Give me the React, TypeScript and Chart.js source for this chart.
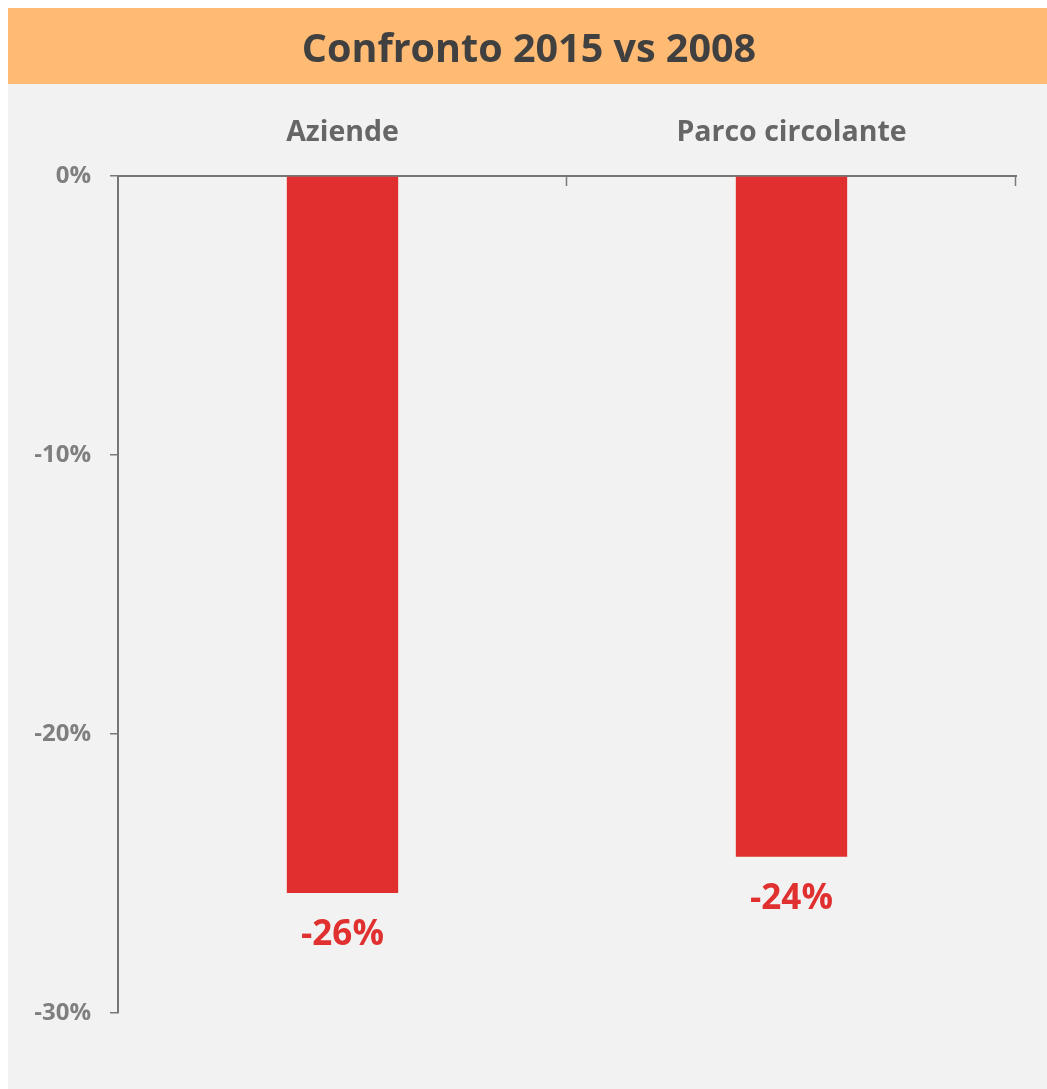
import React, { useEffect, useRef } from "react";
import { Chart, registerables } from "chart.js";

Chart.register(...registerables);

const title = "Confronto 2015 vs 2008";
const categories = ["Aziende", "Parco circolante"];
const changeValues = [-25.7, -24.4];
const yTicks = [0, -10, -20, -30];

const FONT = "'Open Sans', 'DejaVu Sans', sans-serif";

const backgroundPlugin = {
  id: "panelBackground",
  beforeDraw(chart: any) {
    const { ctx, width, height } = chart;
    ctx.save();
    ctx.fillStyle = "#F2F2F2";
    ctx.fillRect(0, 0, width, height);
    ctx.fillStyle = "#FFBA73";
    ctx.fillRect(0, 0, width, 76);
    ctx.restore();
  },
};

const titleSpanPlugin = {
  id: "titleSpan",
  afterLayout(chart: any) {
    const tb = chart.titleBlock;
    if (tb) {
      tb.left = 0;
      tb.right = chart.width + 3;
      tb.width = tb.right - tb.left;
    }
  },
};

const categoryTicksPlugin = {
  id: "categoryTicks",
  afterDraw(chart: any) {
    const { ctx, chartArea } = chart;
    const xs = chart.scales.x;
    ctx.save();
    ctx.strokeStyle = "#7a7a7a";
    ctx.lineWidth = 1.5;
    for (let i = 1; i <= categories.length; i++) {
      const x = Math.round(xs.getPixelForValue(i - 0.5)) - 0.5;
      ctx.beginPath();
      ctx.moveTo(x, chartArea.top);
      ctx.lineTo(x, chartArea.top + 10);
      ctx.stroke();
    }
    ctx.restore();
  },
};

const valueLabelPlugin = {
  id: "valueLabels",
  afterDatasetsDraw(chart: any) {
    const { ctx } = chart;
    const meta = chart.getDatasetMeta(0);
    ctx.save();
    ctx.fillStyle = "#E03030";
    ctx.font = `bold 35px ${FONT}`;
    ctx.textAlign = "center";
    ctx.textBaseline = "middle";
    meta.data.forEach((bar: any, i: number) => {
      const v = changeValues[i];
      ctx.fillText(`${Math.round(v)}%`, bar.x, bar.y + 42);
    });
    ctx.restore();
  },
};

export default function App() {
  const ref = useRef<HTMLCanvasElement | null>(null);

  useEffect(() => {
    if (!ref.current) return;
    const chart = new Chart(ref.current, {
      type: "bar",
      data: {
        labels: categories,
        datasets: [
          {
            data: changeValues,
            backgroundColor: "#E12E2E",
            borderWidth: 0,
            barPercentage: 0.248,
            categoryPercentage: 1,
          },
        ],
      },
      options: {
        animation: false,
        responsive: false,
        maintainAspectRatio: false,
        layout: { padding: { left: 0, right: 31, top: 0, bottom: 76 } },
        plugins: {
          legend: { display: false },
          tooltip: { enabled: false },
          title: {
            display: true,
            text: title,
            color: "#404040",
            font: { family: FONT, size: 39.5, weight: "bold", lineHeight: 1.2 },
            padding: { top: 19.5, bottom: 9.1 },
          },
        },
        scales: {
          x: {
            position: "top",
            offset: true,
            grid: { display: true, drawOnChartArea: false, drawTicks: false, color: "rgba(0,0,0,0)" },
            border: { display: true, color: "#767676", width: 2 },
            ticks: {
              color: "#666666",
              font: { family: FONT, size: 28.5, weight: "bold" },
              padding: 26,
            },
            afterFit(scale: any) {
              scale.height = 92;
            },
          },
          y: {
            min: -30,
            max: 0,
            grid: { drawOnChartArea: false, drawTicks: true, tickLength: 8, color: "#7a7a7a", lineWidth: 1.5 },
            border: { display: true, color: "#767676", width: 2 },
            afterBuildTicks(scale: any) {
              scale.ticks = yTicks.map((v) => ({ value: v }));
            },
            ticks: {
              color: "#7f7f7f",
              font: { family: FONT, size: 24, weight: "bold" },
              padding: 19,
              callback: (v: any) => `${v}%`,
            },
            afterFit(scale: any) {
              scale.width = 110;
            },
          },
        },
      },
      plugins: [backgroundPlugin, titleSpanPlugin, categoryTicksPlugin, valueLabelPlugin],
    });
    return () => chart.destroy();
  }, []);

  return (
    <div style={{ position: "fixed", left: 8, top: 8, width: 1039, height: 1081 }}>
      <canvas ref={ref} width={1039} height={1081} style={{ display: "block", width: 1039, height: 1081 }} />
    </div>
  );
}
